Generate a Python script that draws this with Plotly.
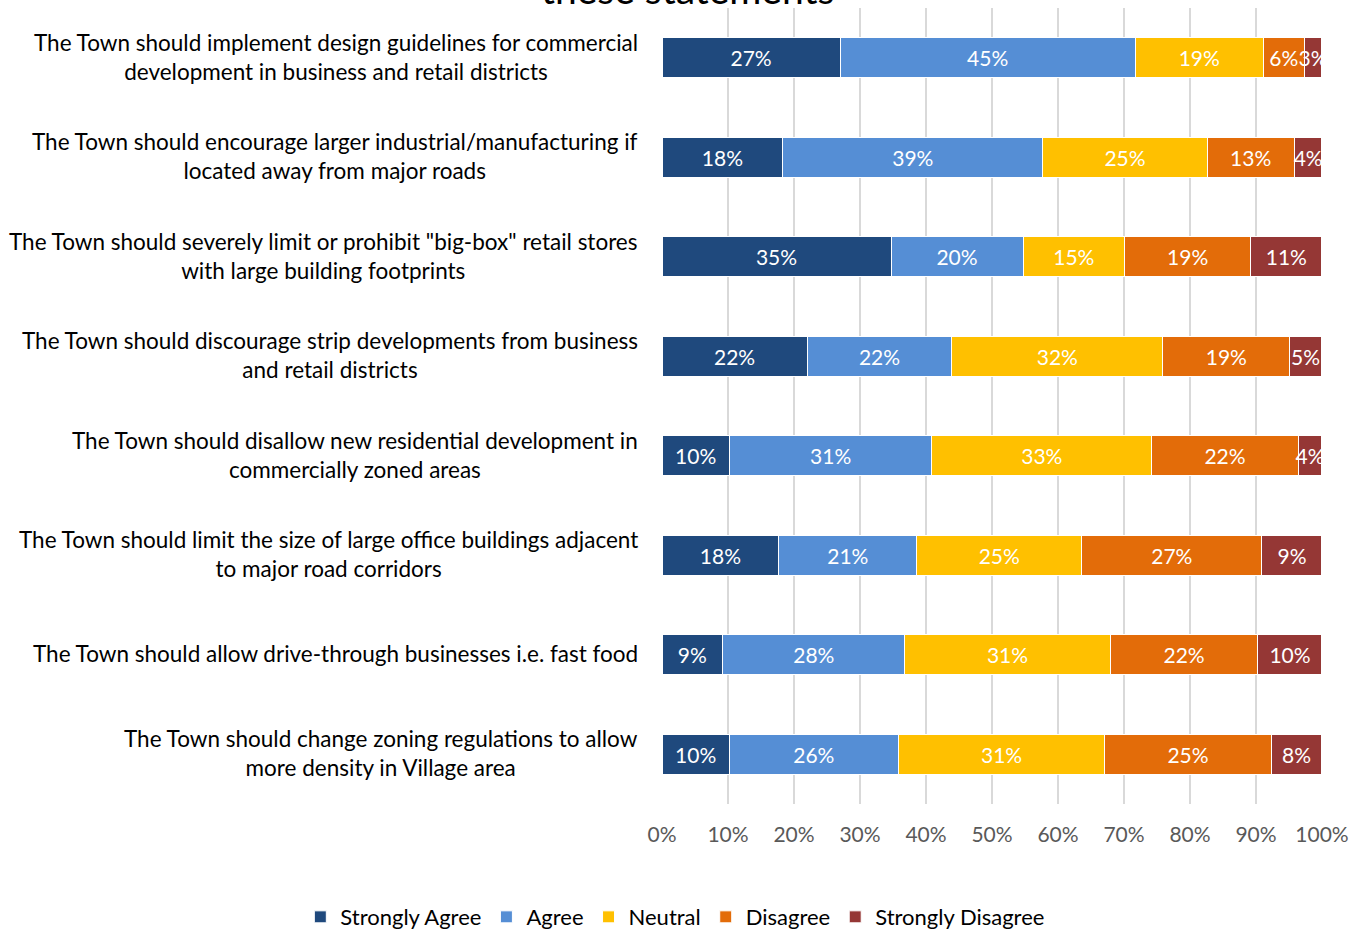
import plotly.graph_objects as go

categories = [
    "The Town should implement design guidelines for commercial<br>development in business and retail districts",
    "The Town should encourage larger industrial/manufacturing if<br>located away from major roads",
    'The Town should severely limit or prohibit "big-box" retail stores<br>with large building footprints',
    "The Town should discourage strip developments from business<br>and retail districts",
    "The Town should disallow new residential development in<br>commercially zoned areas",
    "The Town should limit the size of large office buildings adjacent<br>to major road corridors",
    "The Town should allow drive-through businesses i.e. fast food",
    "The Town should change zoning regulations to allow<br>more density in Village area",
]

strongly_agree = [27.0, 18.3, 34.7, 22.0, 10.2, 17.7, 9.2, 10.2]
agree = [44.7, 39.4, 20.0, 21.9, 30.7, 20.9, 27.6, 25.6]
neutral = [19.4, 24.9, 15.4, 32.0, 33.3, 25.0, 31.1, 31.3]
disagree = [6.2, 13.2, 19.1, 19.2, 22.2, 27.3, 22.4, 25.2]
strongly_disagree = [2.7, 4.2, 10.8, 4.8, 3.6, 9.1, 9.7, 7.7]

series_names = ["Strongly Agree", "Agree", "Neutral", "Disagree", "Strongly Disagree"]
series_values = [strongly_agree, agree, neutral, disagree, strongly_disagree]
colors = ["#1F497D", "#558ED5", "#FFC000", "#E36C09", "#953735"]

x_ticks = [0, 10, 20, 30, 40, 50, 60, 70, 80, 90, 100]
x_tick_labels = [f"{t}%" for t in x_ticks]

FONT = "Lato, Calibri, Carlito, 'Open Sans', sans-serif"

fig = go.Figure()
for name, vals, col in zip(series_names, series_values, colors):
    fig.add_trace(go.Bar(
        y=categories, x=vals, name=name, orientation="h",
        marker=dict(color=col, line=dict(color="white", width=1)),
        texttemplate="%{x:.0f}%", textposition="inside", insidetextanchor="middle",
        textangle=0,
        textfont=dict(color="white", size=21, family=FONT),
        constraintext="none", cliponaxis=False,
    ))

for cat in categories:
    fig.add_annotation(
        x=0, xref="paper", y=cat, yref="y", text=cat, showarrow=False,
        xanchor="right", yanchor="middle", align="center", xshift=-22, yshift=1,
        font=dict(size=22.5, color="#000000", family=FONT),
    )

fig.add_annotation(
    x=0.038, xref="paper", y=1, yref="paper", text="these statements", showarrow=False,
    xanchor="center", yanchor="bottom", yshift=-6,
    font=dict(size=39, color="#000000", family=FONT),
)

fig.update_layout(
    barmode="stack", bargap=0.6,
    width=1364, height=930,
    margin=dict(l=662, r=42, t=8, b=126, autoexpand=False),
    plot_bgcolor="white", paper_bgcolor="white",
    font=dict(family=FONT, size=20, color="#595959"),
    showlegend=True,
    legend=dict(orientation="h", xref="paper", yref="paper",
                x=-0.548, xanchor="left", y=-0.142, yanchor="middle",
                font=dict(size=22, color="#000000", family=FONT),
                itemwidth=30, traceorder="normal"),
    uniformtext=dict(mode=False),
)
fig.update_xaxes(
    range=[0, 100.001], tickvals=x_ticks, ticktext=x_tick_labels,
    showgrid=True, gridcolor="#D9D9D9", gridwidth=1.5, zeroline=False,
    showline=False, ticks="", ticklabelstandoff=16,
    tickfont=dict(size=21, color="#595959", family=FONT),
)
fig.update_yaxes(autorange="reversed", showticklabels=False, showgrid=False,
                 showline=False, ticks="")

fig.write_html(
    "out.html",
    config={"displayModeBar": False},
    post_script="document.body.style.margin='0';document.body.style.overflow='hidden';",
)
